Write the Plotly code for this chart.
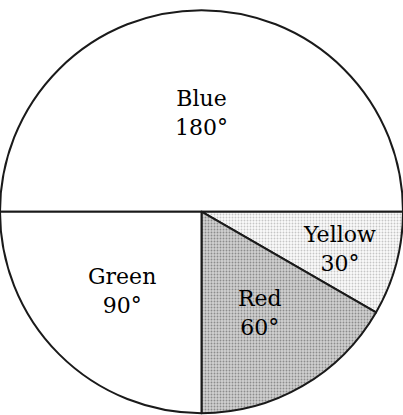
import math
import plotly.graph_objects as go

# Slice data: colour names and their angles in degrees
labels = ["Blue", "Yellow", "Red", "Green"]
degrees = [180, 30, 60, 90]
fills = ["#ffffff", "#fbfbfb", "#d0d0d0", "#ffffff"]
dot_colors = ["#ffffff", "#c6c6c6", "#8c8c8c", "#ffffff"]
dot_shapes = ["", ".", ".", ""]
# how far out from the centre each label sits, as a share of the radius
label_radius = [0.49, 0.71, 0.58, 0.56]

W, H = 403, 415
DOMAIN_Y = [0.0, 0.98]
START_DEG = 180  # first slice starts at 9 o'clock and runs clockwise

fig = go.Figure(
    go.Pie(
        labels=labels,
        values=degrees,
        textinfo="none",
        sort=False,
        direction="clockwise",
        rotation=270,
        hoverinfo="skip",
        showlegend=False,
        marker=dict(
            colors=fills,
            line=dict(color="#1a1a1a", width=2),
            pattern=dict(
                shape=dot_shapes,
                fgcolor=dot_colors,
                bgcolor=fills,
                size=3,
                solidity=0.3,
            ),
        ),
        domain=dict(x=[0, 1], y=DOMAIN_Y),
    )
)

# Labels at each slice's mid-angle
total = sum(degrees)
radius_px = min(W, H * (DOMAIN_Y[1] - DOMAIN_Y[0])) / 2
cy = (DOMAIN_Y[0] + DOMAIN_Y[1]) / 2
start = START_DEG
for name, deg, frac in zip(labels, degrees, label_radius):
    sweep = 360 * deg / total
    mid = math.radians(start - sweep / 2)
    start -= sweep
    r = frac * radius_px
    fig.add_annotation(
        x=0.5 + r * math.cos(mid) / W,
        y=cy + r * math.sin(mid) / H,
        xref="paper",
        yref="paper",
        text=f"{name}<br>{deg}°",
        showarrow=False,
        xanchor="center",
        yanchor="middle",
        align="center",
        font=dict(family="DejaVu Serif", size=22, color="#000000"),
    )

fig.update_layout(
    width=W,
    height=H,
    margin=dict(l=0, r=0, t=0, b=0),
    paper_bgcolor="white",
    plot_bgcolor="white",
)

fig.write_html("out.html")
